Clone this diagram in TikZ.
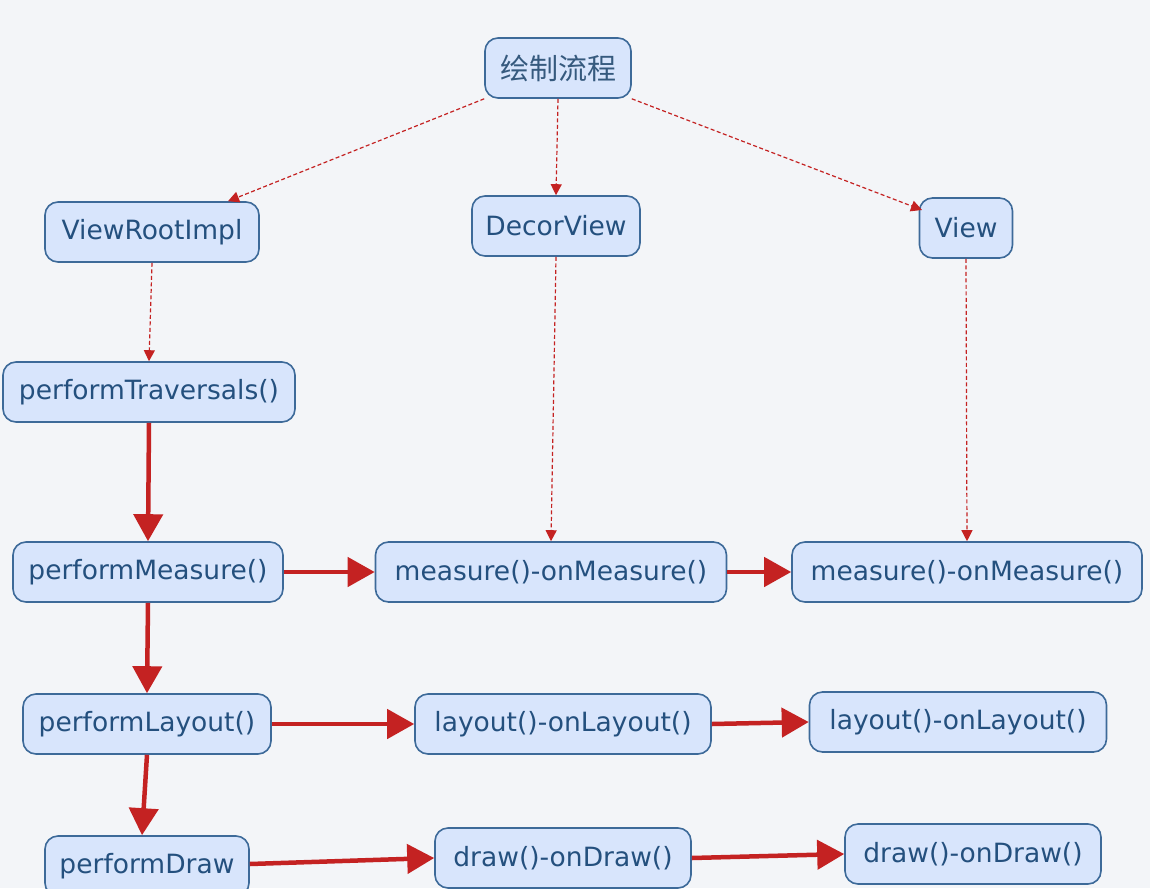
\documentclass[tikz,border=0pt]{standalone}
\usepackage{fontspec}
\setmainfont{DejaVu Sans}
\newfontfamily\cjk{Noto Sans CJK SC}
\usetikzlibrary{arrows.meta}
\definecolor{bgc}{HTML}{F3F5F8}
\definecolor{boxfill}{HTML}{D8E5FC}
\definecolor{boxline}{HTML}{3D6A99}
\definecolor{txtc}{HTML}{24507E}
\definecolor{arr}{HTML}{C42222}
\begin{document}
\begin{tikzpicture}[x=1pt,y=-1pt,
  box/.style={draw=boxline,line width=1.6pt,fill=boxfill,rounded corners=13pt,
    minimum height=60pt,inner sep=0pt,text=txtc,font=\fontsize{26.5}{30}\selectfont},
  thin/.style={draw=arr,line width=1.2pt,dash pattern=on 4pt off 2.5pt,
    -{Triangle[length=11pt,width=11pt]}},
  thick/.style={draw=arr,line width=4.5pt,
    -{Triangle[length=27pt,width=29pt]}}]
\fill[bgc] (0,0) rectangle (1150,888);
\useasboundingbox (0,0) rectangle (1150,888);
\node[box,minimum width=146pt,font=\cjk\fontsize{29}{30}\selectfont,text=txtc!80!gray] (root) at (558,68) {绘制流程};
\node[box,minimum width=214pt] (vri) at (152,232) {ViewRootImpl};
\node[box,minimum width=168pt] (dv) at (556,226) {DecorView};
\node[box,minimum width=93pt] (v) at (966,228) {View};
\node[box,minimum width=292pt] (pt) at (149,392) {performTraversals()};
\node[box,minimum width=270pt] (pm) at (148,572) {performMeasure()};
\node[box,minimum width=351pt] (m1) at (551,572) {measure()-onMeasure()};
\node[box,minimum width=350pt] (m2) at (967,572) {measure()-onMeasure()};
\node[box,minimum width=248pt] (pl) at (147,724) {performLayout()};
\node[box,minimum width=296pt] (l1) at (563,724) {layout()-onLayout()};
\node[box,minimum width=297pt] (l2) at (958,722) {layout()-onLayout()};
\node[box,minimum width=204pt] (pd) at (147,866) {performDraw};
\node[box,minimum width=256pt] (d1) at (563,858) {draw()-onDraw()};
\node[box,minimum width=256pt] (d2) at (973,854) {draw()-onDraw()};
% dashed connectors
\draw[thin] (root.south west) -- (vri.north -| 228,0);
\draw[thin] (root.south) -- (dv.north);
\draw[thin] (root.south east) -- (922,210);
\draw[thin] (vri.south) -- (pt.north);
\draw[thin] (dv.south) -- (m1.north);
\draw[thin] (v.south) -- (m2.north);
% thick connectors
\draw[thick] (pt.south) -- (pm.north);
\draw[thick] (pm.south) -- (pl.north);
\draw[thick] (pl.south) -- (pd.north -| 142,0);
\draw[thick] (pm.east) -- (m1.west);
\draw[thick] (m1.east) -- (m2.west);
\draw[thick] (pl.east) -- (l1.west);
\draw[thick] (l1.east) -- (l2.west);
\draw[thick] (pd.east) ++(0,-2) -- (d1.west);
\draw[thick] (d1.east) -- (d2.west);
\end{tikzpicture}
\end{document}
